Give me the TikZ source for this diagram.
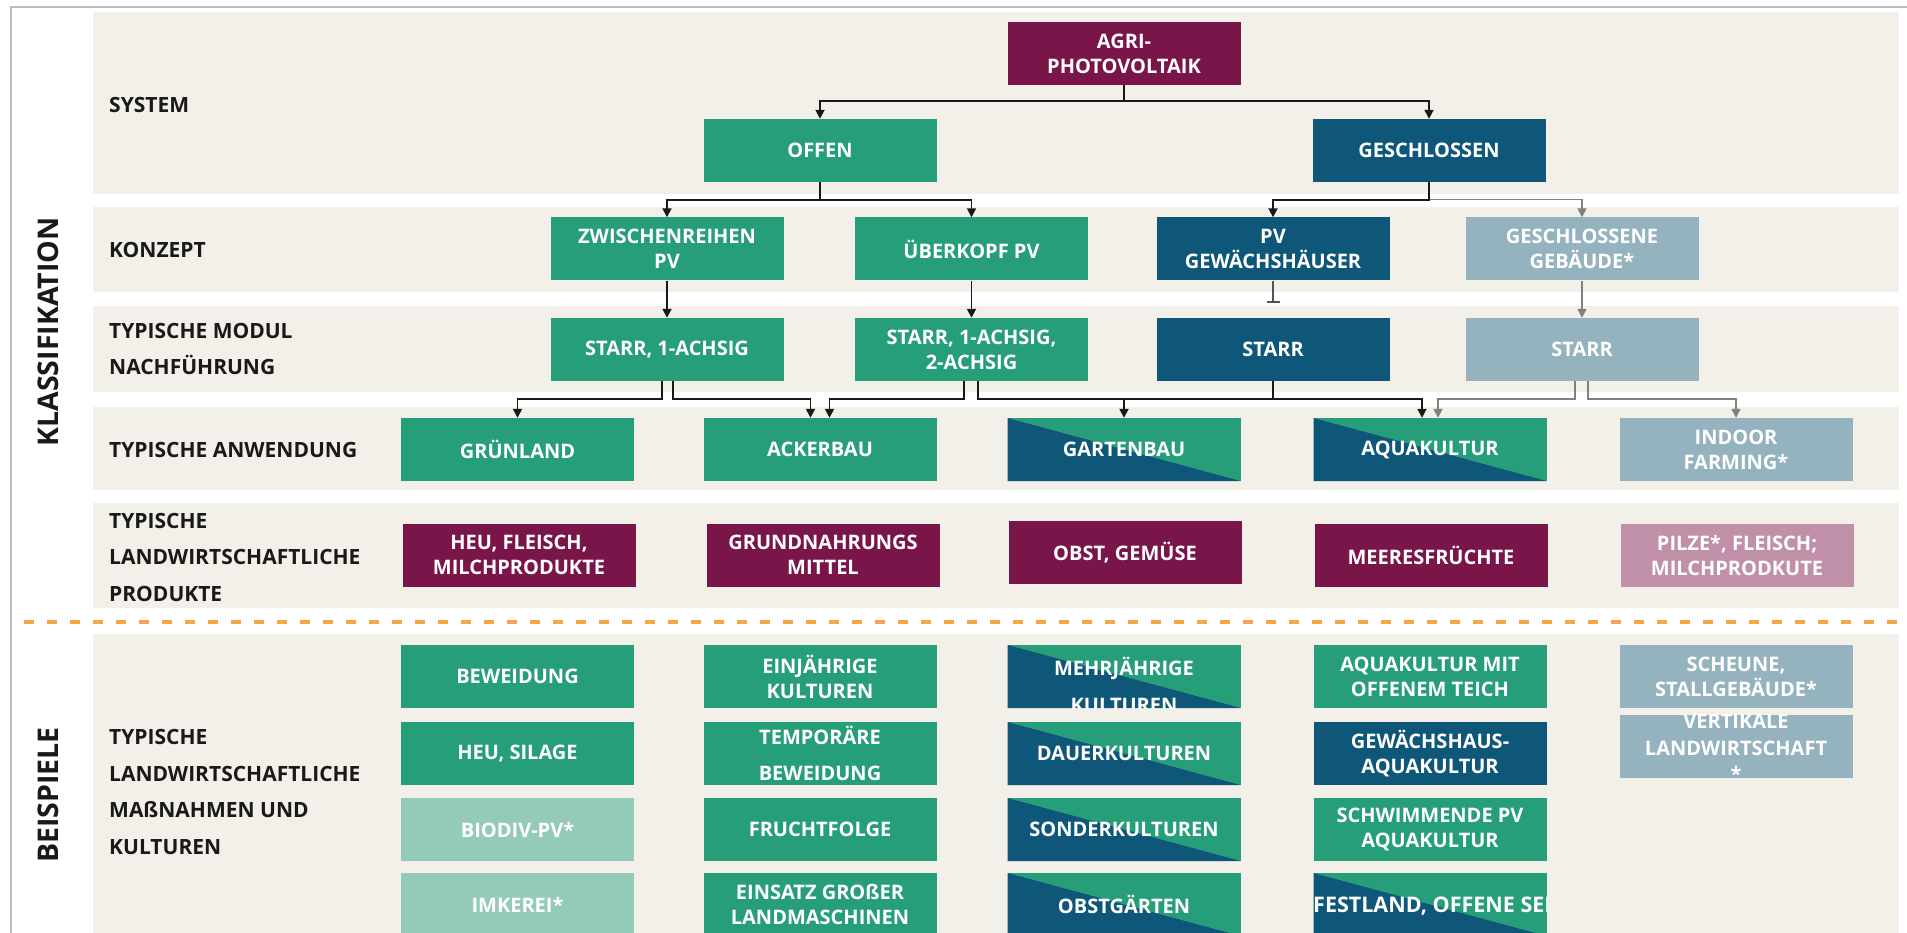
\documentclass[tikz,border=0pt]{standalone}
\usepackage{fontspec}
\setmainfont{Open Sans}
\usetikzlibrary{arrows.meta}
\definecolor{apvPurple}{RGB}{122,21,73}
\definecolor{apvGreen}{RGB}{39,158,122}
\definecolor{apvBlue}{RGB}{15,87,120}
\definecolor{apvGrey}{RGB}{148,179,191}
\definecolor{apvMint}{RGB}{148,203,184}
\definecolor{apvRose}{RGB}{192,143,168}
\definecolor{apvBeige}{RGB}{243,239,233}
\definecolor{apvOrange}{RGB}{245,165,70}
\definecolor{apvFrame}{RGB}{190,190,190}
\definecolor{apvLine}{RGB}{25,25,25}
\definecolor{apvLineGrey}{RGB}{128,128,128}
\newcommand{\apvboxfont}{\fontsize{20}{25}\selectfont\bfseries}
\newcommand{\apvlabelfont}{\fontsize{21}{36.5}\selectfont\bfseries}

\tikzset{
	boxtext/.style={inner sep=0pt, align=center, text=white, font=\apvboxfont},
	box/.style={boxtext, minimum width=233pt, minimum height=63pt},
	split/.style={box, fill=apvGreen, path picture={\fill[apvBlue] (path picture bounding box.north west) -- (path picture bounding box.south east) -- (path picture bounding box.south west) -- cycle;}},
	rowlabel/.style={anchor=west, align=left, inner sep=0pt, text=black!90, font=\apvlabelfont},
	conn/.style={draw=apvLine, line width=1.8pt, -{Triangle[length=9pt,width=9pt]}},
	connGrey/.style={conn, draw=apvLineGrey, line width=1.6pt},
}

\begin{document}
\begin{tikzpicture}[x=1pt, y=-1pt]
		\useasboundingbox (0,0) rectangle (1907,933);
		\draw[apvFrame, line width=1.2pt] (11,940) -- (11,7) -- (1910,7);
		\fill[apvBeige] (93,12) rectangle (1899,194);
		\fill[apvBeige] (93,207) rectangle (1899,292);
		\fill[apvBeige] (93,306) rectangle (1899,392);
		\fill[apvBeige] (93,407) rectangle (1899,490);
		\fill[apvBeige] (93,503) rectangle (1899,608);
		\fill[apvBeige] (93,634) rectangle (1899,940);
		\draw[apvOrange, line width=3.5pt, dash pattern=on 10pt off 13pt] (24,622) -- (1907,622);

		\node[rotate=90, text=black!90, font=\fontsize{28.5}{30}\selectfont\bfseries] (klass) at (48.6,332) {KLASSIFIKATION};
		\node[rotate=90, text=black!90, font=\fontsize{28.5}{30}\selectfont\bfseries] (beisp) at (48.6,795) {BEISPIELE};

		\node[rowlabel] (lsystem) at (109,105) {SYSTEM};
		\node[rowlabel] (lkonzept) at (109,250) {KONZEPT};
		\node[rowlabel] (lmodul) at (109,349) {TYPISCHE MODUL\\NACHFÜHRUNG};
		\node[rowlabel] (lanwendung) at (109,450) {TYPISCHE ANWENDUNG};
		\node[rowlabel] (lprodukte) at (109,557) {TYPISCHE\\LANDWIRTSCHAFTLICHE\\PRODUKTE};
		\node[rowlabel] (lmassnahmen) at (109,792) {TYPISCHE\\LANDWIRTSCHAFTLICHE\\MAßNAHMEN UND\\KULTUREN};

		\begin{scope}[every node/.style={box}]
			\node[fill=apvPurple] (agri) at (1124,53.5) {AGRI-\\PHOTOVOLTAIK};
			\node[fill=apvGreen] (offen) at (820,150.5) {OFFEN};
			\node[fill=apvBlue] (geschl) at (1429,150.5) {GESCHLOSSEN};
		\end{scope}
		\begin{scope}[every node/.style={box}]
			\node[fill=apvGreen] (zwischen) at (667,249) {ZWISCHENREIHEN\\PV};
			\node[fill=apvGreen] (ueberkopf) at (971.5,249) {ÜBERKOPF PV};
			\node[fill=apvBlue] (gewhaus) at (1273,249) {PV\\GEWÄCHSHÄUSER};
			\node[fill=apvGrey] (gebaeude) at (1582,249) {GESCHLOSSENE\\GEBÄUDE*};
			\node[fill=apvGreen] (starrA) at (667,349.5) {STARR, 1-ACHSIG};
			\node[fill=apvGreen] (starrB) at (971.5,349.5) {STARR, 1-ACHSIG,\\2-ACHSIG};
			\node[fill=apvBlue] (starrC) at (1273,349.5) {STARR};
			\node[fill=apvGrey] (starrD) at (1582,349.5) {STARR};
		\end{scope}
		\begin{scope}[every node/.style={box}]
			\node[fill=apvGreen] (gruenland) at (517.5,449.5) {GRÜNLAND};
			\node[fill=apvGreen] (ackerbau) at (820,449.5) {ACKERBAU};
			\node[split] (gartenbau) at (1124,449.5) {GARTENBAU};
			\node[split] (aquakultur) at (1430,449.5) {AQUAKULTUR};
			\node[fill=apvGrey] (indoor) at (1736,449.5) {INDOOR\\FARMING*};
		\end{scope}
		\begin{scope}[every node/.style={box}]
			\node[fill=apvPurple] (heu) at (519,555) {HEU, FLEISCH,\\MILCHPRODUKTE};
			\node[fill=apvPurple] (grundn) at (823,555) {GRUNDNAHRUNGS\\MITTEL};
			\node[fill=apvPurple] (obst) at (1125,552.5) {OBST, GEMÜSE};
			\node[fill=apvPurple] (meer) at (1431,555) {MEERESFRÜCHTE};
			\node[fill=apvRose] (pilze) at (1737,555) {PILZE*, FLEISCH;\\MILCHPRODKUTE};
		\end{scope}
		\begin{scope}[every node/.style={box}]
			\node[fill=apvGreen] (beweidung) at (517.5,676.5) {BEWEIDUNG};
			\node[fill=apvGreen] (silage) at (517.5,753.5) {HEU, SILAGE};
			\node[fill=apvMint] (biodiv) at (517.5,829.5) {BIODIV-PV*};
			\node[fill=apvMint] (imkerei) at (517.5,904.5) {IMKEREI*};
			\node[fill=apvGreen] (einj) at (820,676.5) {EINJÄHRIGE\\KULTUREN};
			\node[fill=apvGreen, font=\fontsize{20}{36.5}\selectfont\bfseries] (tempor) at (820,753.5) {TEMPORÄRE\\BEWEIDUNG};
			\node[fill=apvGreen] (fruchtf) at (820,829.5) {FRUCHTFOLGE};
			\node[fill=apvGreen] (einsatz) at (820,904.5) {EINSATZ GROßER\\LANDMASCHINEN};
			\node[split] (mehrj) at (1124,676.5) {};
			\node[split] (dauer) at (1124,753.5) {DAUERKULTUREN};
			\node[split] (sonder) at (1124,829.5) {SONDERKULTUREN};
			\node[split] (obstg) at (1124,904.5) {OBSTGÄRTEN};
			\node[fill=apvGreen] (teich) at (1430,676.5) {AQUAKULTUR MIT\\OFFENEM TEICH};
			\node[fill=apvBlue] (ghaqua) at (1430,753.5) {GEWÄCHSHAUS-\\AQUAKULTUR};
			\node[fill=apvGreen] (schwimm) at (1430,829.5) {SCHWIMMENDE PV\\AQUAKULTUR};
			\node[split] (festland) at (1430,904.5) {};
			\node[fill=apvGrey] (scheune) at (1736,676.5) {SCHEUNE,\\STALLGEBÄUDE*};
			\node[fill=apvGrey] (vertikal) at (1736,746.5) {};
		\end{scope}
		\begin{scope}
			\clip (mehrj.north west) rectangle (mehrj.south east);
			\node[boxtext, font=\fontsize{20}{36.5}\selectfont\bfseries] (mehrjtxt) at (1124,685) {MEHRJÄHRIGE\\KULTUREN};
		\end{scope}
		\begin{scope}
			\clip (festland.north west) rectangle (festland.south east);
			\node[boxtext, anchor=west, font=\fontsize{21.5}{25}\selectfont\bfseries] (festlandtxt) at (1313,906) {FESTLAND, OFFENE SEE};
		\end{scope}
		\begin{scope}
			\clip (vertikal.north west) rectangle (vertikal.south east);
			\node[boxtext, font=\fontsize{20}{26.5}\selectfont\bfseries] (vertikaltxt) at (1736,748) {VERTIKALE\\LANDWIRTSCHAFT\\*};
		\end{scope}

		\draw[conn] (agri.south) -- ++(0,16) -| (offen.north);
		\draw[conn] (agri.south) -- ++(0,16) -| (geschl.north);
		\draw[conn] (offen.south) -- ++(0,17.5) -| (zwischen.north);
		\draw[conn] (offen.south) -- ++(0,17.5) -| (ueberkopf.north);
		\draw[connGrey] (geschl.south) ++(0,17.5) -| (gebaeude.north);
		\draw[conn] (geschl.south) -- ++(0,17.5) -| (gewhaus.north);
		\draw[conn] (zwischen) -- (starrA);
		\draw[conn] (ueberkopf) -- (starrB);
		\draw[connGrey] (gebaeude) -- (starrD);
		\draw[apvLine!75, line width=1.6pt, -{Bar[width=13pt]}] (gewhaus.south) -- ++(0,22);

		\draw[conn] ([xshift=-5pt]starrA.south) -- ++(0,17.5) -| (gruenland.north);
		\draw[conn] ([xshift=6pt]starrA.south) -- ++(0,17.5) -| ([xshift=-9.5pt]ackerbau.north);
		\draw[conn] ([xshift=-7.5pt]starrB.south) -- ++(0,17.5) -| ([xshift=9.5pt]ackerbau.north);
		\draw[conn] ([xshift=6.5pt]starrB.south) -- ++(0,17.5) -| (gartenbau.north);
		\draw[conn] ([xshift=6.5pt]starrB.south) -- ++(0,17.5) -| ([xshift=-8pt]aquakultur.north);
		\draw[apvLine, line width=1.8pt] (starrC.south) -- ++(0,17.5);
		\draw[connGrey] ([xshift=-7pt]starrD.south) -- ++(0,17.5) -| ([xshift=8pt]aquakultur.north);
		\draw[connGrey] ([xshift=6pt]starrD.south) -- ++(0,17.5) -| (indoor.north);
	\end{tikzpicture}
\end{document}
